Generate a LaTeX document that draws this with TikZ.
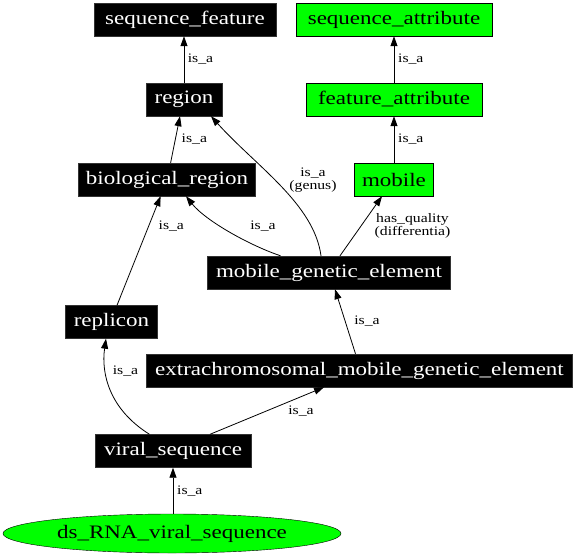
\documentclass[tikz,border=0pt]{standalone}
\usepackage{fontspec}
\setmainfont{Liberation Serif}[FakeStretch=1.21]
\usetikzlibrary{arrows.meta,shapes.geometric}
\definecolor{ggreen}{HTML}{00FF00}
\tikzset{
  term/.style={rectangle, fill=black, draw=black!80, text=white, inner sep=0pt, minimum height=33pt, font=\fontsize{19pt}{21pt}\selectfont},
  attr/.style={rectangle, fill=ggreen, draw=black, text=black, inner sep=0pt, minimum height=33pt, font=\fontsize{19pt}{21pt}\selectfont},
  leaf/.style={ellipse, fill=ggreen, draw=black, text=black, inner sep=0pt, minimum width=338pt, minimum height=39pt, font=\fontsize{19pt}{21pt}\selectfont},
  arr/.style={draw=black, line width=0.8pt, -{Triangle[length=10pt,width=7pt]}},
  lbl/.style={inner sep=0pt, align=center, font=\fontsize{13pt}{12.5pt}\selectfont}
}
\begin{document}
\begin{tikzpicture}[x=1pt,y=-1pt]
\useasboundingbox (0,0) rectangle (576,557);
% nodes
\node[term, minimum width=182pt] (SF) at (185,19.5) {sequence\_feature};
\node[attr, minimum width=196pt] (SA) at (394,19.5) {sequence\_attribute};
\node[term, minimum width=76pt] (RG) at (184,99.5) {region};
\node[attr, minimum width=176pt] (FA) at (394,99.5) {feature\_attribute};
\node[term, minimum width=177pt] (BR) at (167,179.5) {biological\_region};
\node[attr, minimum width=79pt] (MO) at (394,179.5) {mobile};
\node[term, minimum width=243pt] (MGE) at (329,272.5) {mobile\_genetic\_element};
\node[term, minimum width=92pt] (REP) at (111.5,322) {replicon};
\node[term, minimum width=426pt] (EM) at (359.5,370.5) {extrachromosomal\_mobile\_genetic\_element};
\node[term, minimum width=156pt] (VS) at (173,451) {viral\_sequence};
\node[leaf] (DS) at (172,533.5) {ds\_RNA\_viral\_sequence};
% edges
\draw[arr] (RG.north) -- (RG.north |- SF.south);
\draw[arr] (FA.north) -- (SA.south);
\draw[arr] (MO.north) -- (FA.south);
\draw[arr] ([xshift=3.6pt]BR.north) -- ([xshift=-4pt]RG.south);
\draw[arr] ([xshift=-8pt]MGE.north) .. controls +(-7,-52) and +(45,50) .. ([xshift=27pt]RG.south);
\draw[arr] ([xshift=-48.4pt]MGE.north) .. controls +(-30,-10) and +(20,25) .. ([xshift=19pt]BR.south);
\draw[arr] ([xshift=11pt]MGE.north) -- ([xshift=-12pt]MO.south);
\draw[arr] ([xshift=5.5pt]REP.north) -- ([xshift=-6.4pt]BR.south);
\draw[arr] ([xshift=-4pt]EM.north) -- ([xshift=6pt]MGE.south);
\draw[arr] ([xshift=-23.5pt]VS.north) .. controls +(-40,-25) and +(-5,35) .. ([xshift=-5.5pt]REP.south);
\draw[arr] ([xshift=37pt]VS.north) -- ([xshift=-35.5pt]EM.south);
\draw[arr] (DS.north -| VS.south) -- (VS.south);
% labels
\node[lbl] (l1) at (200.5,59) {is\_a};
\node[lbl] (l2) at (410.8,59) {is\_a};
\node[lbl] (l3) at (410.8,139) {is\_a};
\node[lbl] (l4) at (194.4,139) {is\_a};
\node[lbl] (l5) at (313,180) {is\_a\\(genus)};
\node[lbl] (l6) at (263,225.7) {is\_a};
\node[lbl] (l7) at (412.5,226) {has\_quality\\(differentia)};
\node[lbl] (l8) at (171.3,226) {is\_a};
\node[lbl] (l9) at (367,321) {is\_a};
\node[lbl] (l10) at (125.5,371) {is\_a};
\node[lbl] (l11) at (301,411) {is\_a};
\node[lbl] (l12) at (189.8,490.7) {is\_a};
\end{tikzpicture}
\end{document}
